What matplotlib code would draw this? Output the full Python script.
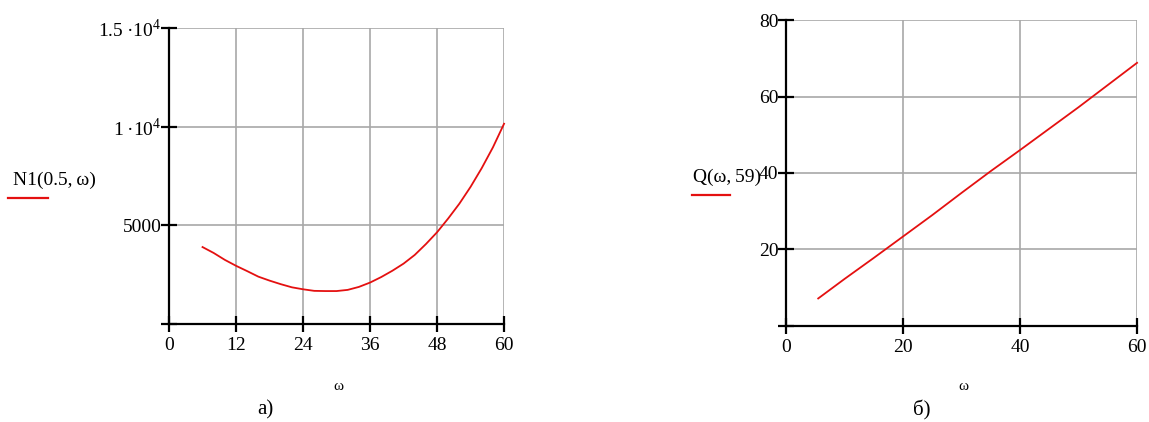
import matplotlib.pyplot as plt
from matplotlib.lines import Line2D

plt.rcParams['font.family'] = ['Liberation Serif', 'DejaVu Serif']
plt.rcParams['mathtext.fontset'] = 'custom'
plt.rcParams['mathtext.rm'] = 'Liberation Serif'

# N1(0.5, w) curve
w_n1 = [6, 8, 10, 12, 14, 16, 18, 20, 22, 24, 26, 28, 30, 32,
        34, 36, 38, 40, 42, 44, 46, 48, 50, 52, 54, 56, 58, 60]
n1 = [3900, 3600, 3250, 2950, 2680, 2400, 2200, 2020, 1860, 1760, 1680, 1670, 1670, 1730,
      1880, 2100, 2380, 2700, 3060, 3500, 4050, 4650, 5350, 6100, 6950, 7900, 8950, 10150]

# Q(w, 59) curve
w_q = [5.5, 10, 15, 20, 25, 30, 35, 40, 45, 50, 55, 60]
q = [7.2, 12.3, 17.8, 23.4, 29.0, 34.8, 40.5, 46.0, 51.6, 57.2, 63.0, 68.8]

n1_xticks = [0, 12, 24, 36, 48, 60]
n1_yticks = [0, 5000, 10000, 15000]
n1_ylabels = ['', '5000', '1\u2009\u00b710$^{4}$', '1.5\u2009\u00b710$^{4}$']
q_xticks = [0, 20, 40, 60]
q_yticks = [0, 20, 40, 60, 80]
q_ylabels = ['', '20', '40', '60', '80']

RED = '#e41010'
GRID = '#a8a8a8'

fig = plt.figure(figsize=(11.49, 4.22), dpi=100)


def style_axes(ax):
    for side in ('top', 'right'):
        ax.spines[side].set_visible(False)
    for side in ('left', 'bottom'):
        ax.spines[side].set_linewidth(1.6)
        ax.spines[side].set_color('black')
    ax.grid(True, color=GRID, linewidth=1.2)
    ax.set_axisbelow(True)
    ax.tick_params(direction='inout', length=11, width=1.6, labelsize=14)
    ax.tick_params(axis='y', pad=0)
    ax.tick_params(axis='x', pad=4)


ax1 = fig.add_axes([0.1471, 0.2322, 0.2916, 0.7014])
ax1.plot(w_n1, n1, color=RED, linewidth=1.3, clip_on=False)
ax1.set_xlim(0, 60)
ax1.set_ylim(0, 15000)
ax1.set_xticks(n1_xticks)
ax1.set_yticks(n1_yticks)
ax1.set_yticklabels(n1_ylabels)
style_axes(ax1)

ax2 = fig.add_axes([0.6841, 0.2275, 0.3055, 0.7251])
ax2.plot(w_q, q, color=RED, linewidth=1.3, clip_on=False)
ax2.set_xlim(0, 60)
ax2.set_ylim(0, 80)
ax2.set_xticks(q_xticks)
ax2.set_yticks(q_yticks)
ax2.set_yticklabels(q_ylabels)
style_axes(ax2)

# trace names with their short red markers
fig.text(13 / 1149, 1 - 180 / 422, 'N1(0.5,\u2009\u03c9)', fontsize=14, ha='left', va='center')
fig.add_artist(Line2D([8 / 1149, 48 / 1149], [1 - 198 / 422] * 2, color=RED, linewidth=1.6))
fig.text(693 / 1149, 1 - 177 / 422, 'Q(\u03c9,\u200959)', fontsize=14, ha='left', va='center')
fig.add_artist(Line2D([692 / 1149, 730 / 1149], [1 - 195 / 422] * 2, color=RED, linewidth=1.6))

# axis variable and panel captions
fig.text(338 / 1149, 1 - 387 / 422, '\u03c9', fontsize=11, ha='center', va='center')
fig.text(963 / 1149, 1 - 387 / 422, '\u03c9', fontsize=11, ha='center', va='center')
fig.text(265 / 1149, 1 - 410 / 422, 'а)', fontsize=15, ha='center', va='center')
fig.text(922 / 1149, 1 - 410 / 422, 'б)', fontsize=15, ha='center', va='center')

fig.savefig('out.png', dpi=100)
